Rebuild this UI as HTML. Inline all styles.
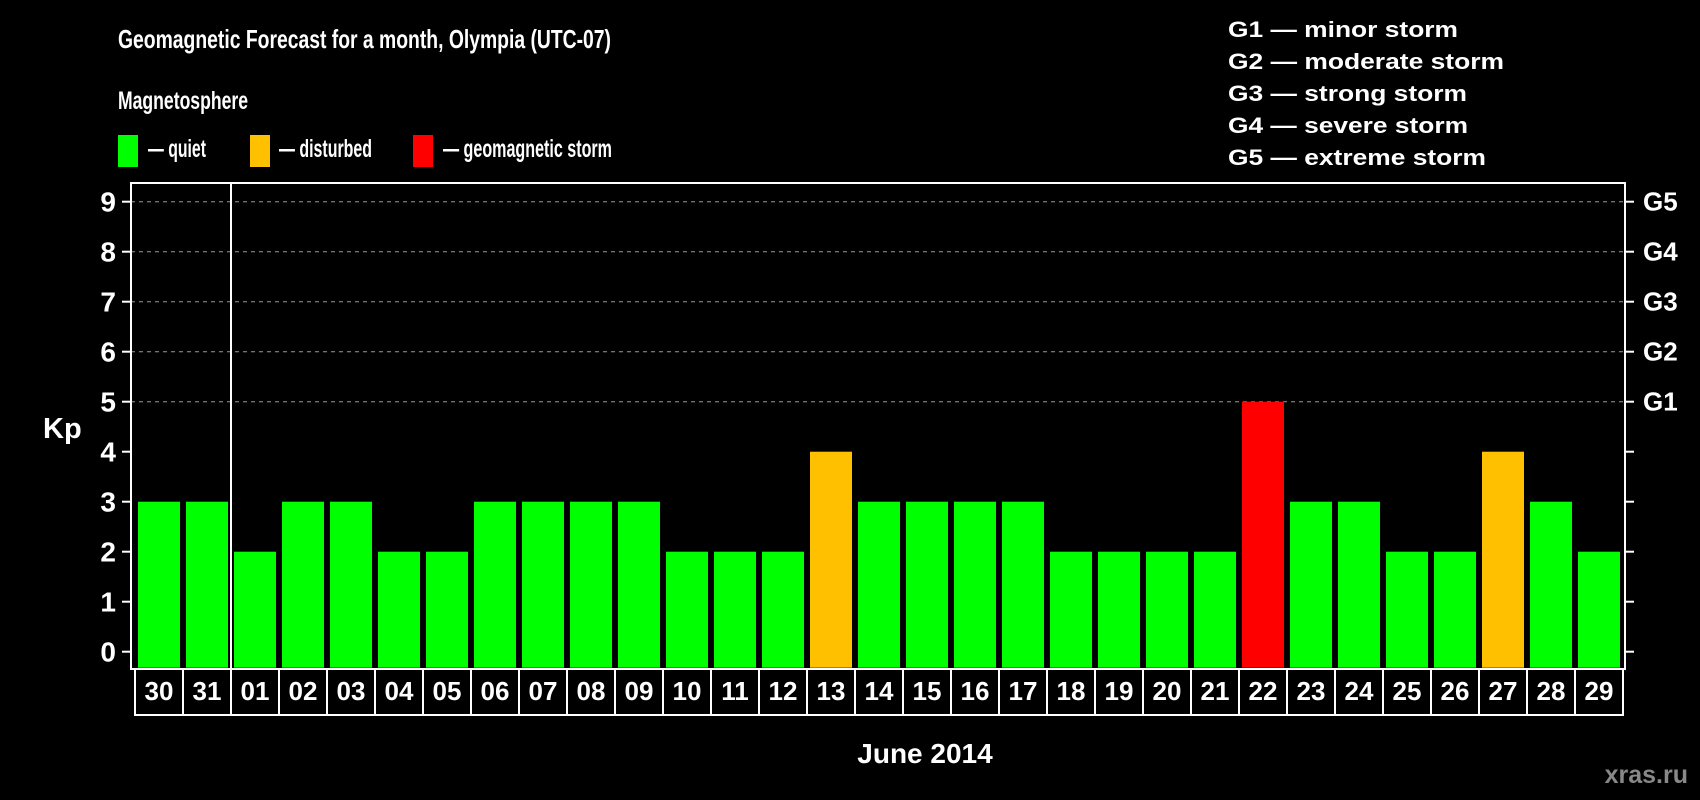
<!DOCTYPE html>
<html><head><meta charset="utf-8"><style>
html,body{margin:0;padding:0;background:#000;}
svg{display:block;font-family:"Liberation Sans",sans-serif;font-weight:bold;}
</style></head><body>
<svg id="chart" width="1700" height="800" viewBox="0 0 1700 800" xmlns="http://www.w3.org/2000/svg">
<rect width="1700" height="800" fill="#000"/>
<text x="118" y="48" fill="#fff" font-size="26" textLength="493" lengthAdjust="spacingAndGlyphs">Geomagnetic Forecast for a month, Olympia (UTC-07)</text>
<text x="118" y="109" fill="#fff" font-size="25" textLength="130" lengthAdjust="spacingAndGlyphs">Magnetosphere</text>
<g><rect x="118" y="135" width="20" height="32" fill="#00ff00"/><text x="148" y="157" fill="#fff" font-size="25" textLength="58" lengthAdjust="spacingAndGlyphs">— quiet</text></g>
<g><rect x="250" y="135" width="20" height="32" fill="#ffc000"/><text x="279" y="157" fill="#fff" font-size="25" textLength="93" lengthAdjust="spacingAndGlyphs">— disturbed</text></g>
<g><rect x="413" y="135" width="20" height="32" fill="#ff0000"/><text x="443" y="157" fill="#fff" font-size="25" textLength="169" lengthAdjust="spacingAndGlyphs">— geomagnetic storm</text></g>
<g font-size="22" fill="#fff">
<text x="1228" y="37" textLength="230" lengthAdjust="spacingAndGlyphs">G1 — minor storm</text>
<text x="1228" y="69" textLength="276" lengthAdjust="spacingAndGlyphs">G2 — moderate storm</text>
<text x="1228" y="101" textLength="239" lengthAdjust="spacingAndGlyphs">G3 — strong storm</text>
<text x="1228" y="133" textLength="240" lengthAdjust="spacingAndGlyphs">G4 — severe storm</text>
<text x="1228" y="165" textLength="258" lengthAdjust="spacingAndGlyphs">G5 — extreme storm</text>
</g>
<g id="grid"></g>
<g id="bars"></g>
<g id="axes"></g>
<text x="43" y="438" fill="#fff" font-size="29">Kp</text>
<text x="925" y="763" fill="#fff" font-size="28" text-anchor="middle">June 2014</text>
<text x="1688" y="783" fill="#888" font-size="25" text-anchor="end">xras.ru</text>
</svg>
<script>
const days = ["30","31","01","02","03","04","05","06","07","08","09","10","11","12","13","14","15","16","17","18","19","20","21","22","23","24","25","26","27","28","29"];
const kpValues = [3,3,2,3,3,2,2,3,3,3,3,2,2,2,4,3,3,3,3,2,2,2,2,5,3,3,2,2,4,3,2];
const yTicks = [0,1,2,3,4,5,6,7,8,9];
const gLabels = ["G1","G2","G3","G4","G5"];
const NS="http://www.w3.org/2000/svg";
const L=131,R=1625,T=183,B=669,Y0=651.7,UNIT=50,X0=135,STEP=48;
function y(v){return Y0-v*UNIT;}
function x(i){return X0+i*STEP;}
function mk(tag,attrs,parent){const e=document.createElementNS(NS,tag);for(const k in attrs)e.setAttribute(k,attrs[k]);parent.appendChild(e);return e;}
const grid=document.getElementById('grid'),bars=document.getElementById('bars'),axes=document.getElementById('axes');
gLabels.forEach((g,k)=>{const v=5+k;
 const ln=mk('line',{x1:L,x2:R,y1:y(v),y2:y(v),stroke:'#999','stroke-width':1,'stroke-dasharray':'4,4'},grid);
 
 
 const t=mk('text',{x:1643,y:y(v)+9,fill:'#fff','font-size':26},axes);t.textContent=g;
 
 
});
kpValues.forEach((v,i)=>{
 const c=v>=5?'#ff0000':(v>=4?'#ffc000':'#00ff00');
 const r=mk('rect',{x:x(i)+3,y:y(v),width:42,height:y(0)-y(v)+16,fill:c},bars);
 
 
 const cell=mk('rect',{x:x(i),y:B,width:STEP,height:46,fill:'none',stroke:'#fff','stroke-width':2},axes);
 
 
 const t=mk('text',{x:x(i)+STEP/2,y:700,fill:'#fff','font-size':26,'text-anchor':'middle'},axes);t.textContent=days[i];
 
 
});
const box=mk('rect',{x:L,y:T,width:R-L,height:B-T,fill:'none',stroke:'#fff','stroke-width':2},axes);


const sep=mk('line',{x1:x(2),x2:x(2),y1:T,y2:B,stroke:'#fff','stroke-width':2},axes);


yTicks.forEach(v=>{
 mk('line',{x1:122,x2:L,y1:y(v),y2:y(v),stroke:'#fff','stroke-width':2},axes);
 mk('line',{x1:R,x2:1634,y1:y(v),y2:y(v),stroke:'#fff','stroke-width':2},axes);
 const t=mk('text',{x:116,y:y(v)+10,fill:'#fff','font-size':28,'text-anchor':'end'},axes);t.textContent=v;
 
 
});
</script>
</body></html>
